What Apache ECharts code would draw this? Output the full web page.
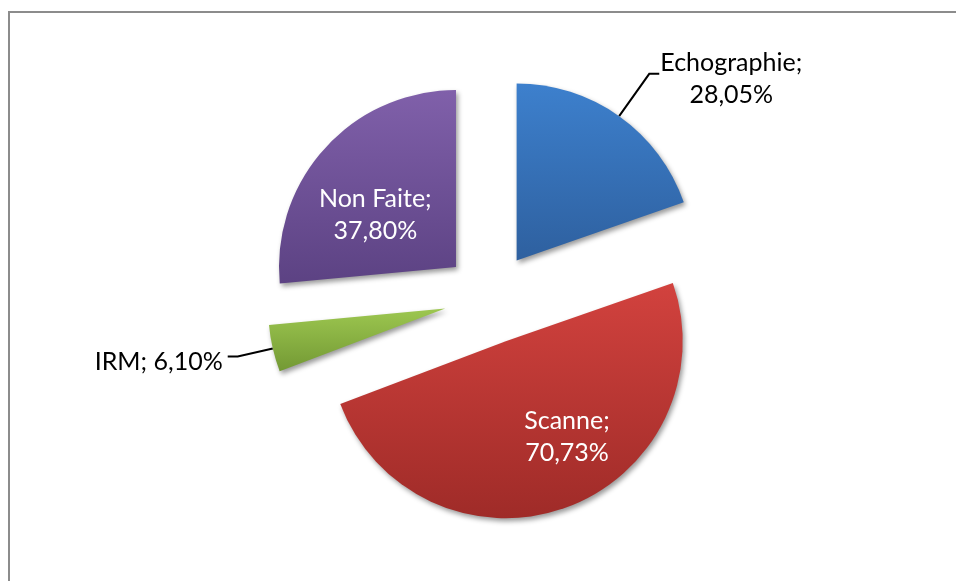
<!DOCTYPE html>
<html>
<head>
<meta charset="utf-8">
<script src="https://cdn.jsdelivr.net/npm/echarts@6/dist/echarts.min.js"></script>
<style>
html, body { margin: 0; padding: 0; background: #fff; }
#main { width: 956px; height: 581px; }
</style>
</head>
<body>
<div id="main"></div>
<script>
// données du graphique
var categories = ['Echographie', 'Scanne', 'IRM', 'Non Faite'];
var percents = [28.05, 70.73, 6.10, 37.80];
// où va l'étiquette de chaque part, et séparateur nom / valeur
var labelPlaces = ['outside', 'inside', 'outside', 'inside'];
var labelBreaks = ['\n', '\n', ' ', '\n'];

// styles
var topColors = ['#3d80cd', '#d2423e', '#9dc750', '#8060aa'];
var bottomColors = ['#2e609f', '#9f2b28', '#739934', '#5c4283'];
var leaderLength = [52, 0, 36, 0];
var leaderLength2 = [10, 0, 10, 0];
var labelNudge = [[-3, 5], [30, 10], [0, 5], [-13, 9]];

function fmt(v) {
    return v.toFixed(2).replace('.', ',') + '%';
}

var chart = echarts.init(document.getElementById('main'));

var data = categories.map(function (name, i) {
    var inside = labelPlaces[i] === 'inside';
    return {
        name: name,
        value: percents[i],
        selected: true,
        itemStyle: {
            color: new echarts.graphic.LinearGradient(0, 0, 0, 1, [
                { offset: 0, color: topColors[i] },
                { offset: 1, color: bottomColors[i] }
            ])
        },
        label: { position: labelPlaces[i], color: inside ? '#fff' : '#000' },
        labelLine: { show: !inside, length: leaderLength[i], length2: leaderLength2[i] }
    };
});

chart.setOption({
    animation: false,
    backgroundColor: '#fff',
    graphic: [{
        type: 'rect',
        silent: true,
        z: -1,
        shape: { x: 9, y: 12, width: 1100, height: 800 },
        style: { fill: 'none', stroke: '#8c8c8c', lineWidth: 2 }
    }],
    series: [{
        type: 'pie',
        center: [490, 298],
        radius: 177,
        startAngle: 90,
        clockwise: true,
        selectedMode: 'multiple',
        selectedOffset: 46,
        avoidLabelOverlap: false,
        emphasis: { disabled: true },
        itemStyle: {
            shadowBlur: 5,
            shadowColor: 'rgba(0,0,0,0.4)',
            shadowOffsetX: 2,
            shadowOffsetY: 3
        },
        label: {
            fontFamily: 'Lato',
            fontSize: 25,
            lineHeight: 32,
            formatter: function (p) {
                var i = p.dataIndex;
                if (labelBreaks[i] === '\n') {
                    return '{c|' + p.name + ';}\n{c|' + fmt(p.value) + '}';
                }
                return p.name + ';' + labelBreaks[i] + fmt(p.value);
            },
            rich: {
                c: { width: 140, align: 'center', fontFamily: 'Lato', fontSize: 25, lineHeight: 32 }
            }
        },
        labelLine: {
            lineStyle: { color: '#000', width: 2 }
        },
        labelLayout: function (params) {
            var n = labelNudge[params.dataIndex];
            return { dx: n[0], dy: n[1] };
        },
        data: data
    }]
});
</script>
</body>
</html>
